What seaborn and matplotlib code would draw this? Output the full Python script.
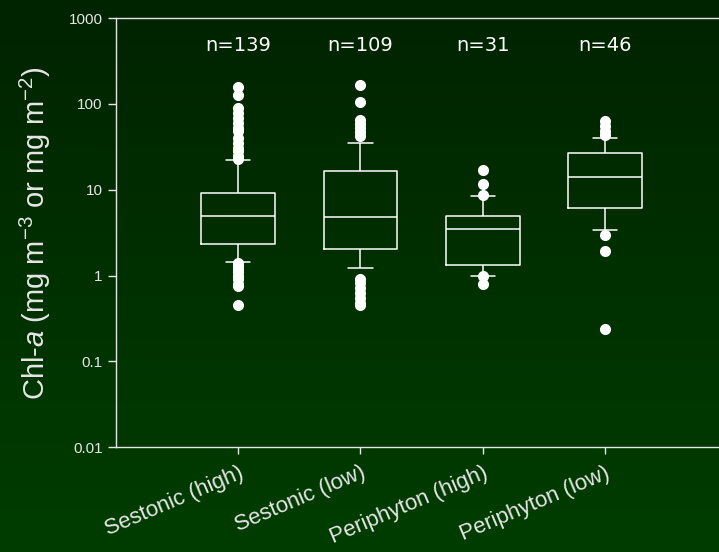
import numpy as np
import pandas as pd
import matplotlib.pyplot as plt
import seaborn as sns
from matplotlib.colors import LinearSegmentedColormap

groups = ["Sestonic (high)", "Sestonic (low)", "Periphyton (high)", "Periphyton (low)"]
n_obs = [139, 109, 31, 46]

# five-number summaries
whisker_low = [1.43, 1.21, 0.99, 3.44]
q1 = [2.34, 2.03, 1.33, 6.06]
median = [4.92, 4.8, 3.5, 14.1]
q3 = [9.06, 16.6, 5.0, 26.5]
whisker_high = [22.1, 35.2, 8.4, 40.6]

# points beyond the whiskers
outliers = [
    [158, 127, 89, 78, 68, 60, 53, 49, 40, 35, 31, 28, 25, 23,
     1.4, 1.3, 1.2, 1.1, 1.0, 0.9, 0.8, 0.75, 0.45],
    [166, 106, 65, 58, 52, 47, 42,
     0.92, 0.82, 0.72, 0.63, 0.55, 0.48, 0.45],
    [17.2, 11.7, 8.6, 0.99, 0.79],
    [64, 56, 49, 43, 3.0, 1.94, 0.24],
]

y_ticks = [0.01, 0.1, 1, 10, 100, 1000]
y_tick_labels = ["0.01", "0.1", "1", "10", "100", "1000"]

sns.set_style("ticks")
plt.rcParams["font.family"] = ["Liberation Sans", "DejaVu Sans"]
plt.rcParams["mathtext.fontset"] = "custom"
plt.rcParams["mathtext.rm"] = "Liberation Sans"
plt.rcParams["mathtext.it"] = "Liberation Sans:italic"
plt.rcParams["axes.unicode_minus"] = False

fg = "#e6e6e6"

box_rows = []
for g, lo, a, m, b, hi in zip(groups, whisker_low, q1, median, q3, whisker_high):
    for v in (lo, a, m, b, hi):
        box_rows.append({"group": g, "value": v})
box_df = pd.DataFrame(box_rows)

out_df = pd.DataFrame(
    [{"group": g, "value": v} for g, vals in zip(groups, outliers) for v in vals]
)

fig = plt.figure(figsize=(7.19, 5.52), dpi=100)

# background gradient
bg = fig.add_axes([0, 0, 1, 1], zorder=-1)
cmap = LinearSegmentedColormap.from_list("bg", ["#002300", "#003d00"])
bg.imshow(np.linspace(0, 1, 256).reshape(-1, 1), aspect="auto", cmap=cmap,
          extent=(0, 1, 0, 1))
bg.set_axis_off()

ax = fig.add_axes([0.161, 0.190, 0.839, 0.777])
ax.patch.set_alpha(0)
ax.set_yscale("log")

box_kws = dict(data=box_df, x="group", y="value", order=groups, whis=(0, 100),
               width=0.6, fill=False, color="white", linewidth=1.1,
               showfliers=False, ax=ax)
try:
    sns.boxplot(capwidths=0.2, **box_kws)
except TypeError:
    sns.boxplot(**box_kws)
sns.stripplot(data=out_df, x="group", y="value", order=groups, jitter=False,
              color="white", size=8, linewidth=0, ax=ax)

for i, n in enumerate(n_obs):
    ax.text(i, 480, f"n={n}", ha="center", va="center", fontsize=14,
            color="white", family="DejaVu Sans")

ax.set_xlim(-1, 3.93)
ax.set_ylim(0.01, 1000)
ax.set_yticks(y_ticks)
ax.set_yticklabels(y_tick_labels)
ax.yaxis.set_minor_locator(plt.NullLocator())
ax.set_xticks(range(len(groups)))
ax.set_xticklabels(groups, rotation=23, ha="right", va="top",
                   rotation_mode="anchor", fontsize=16, color=fg)
ax.tick_params(axis="y", labelsize=11, labelcolor=fg, color=fg, length=6,
               width=1, direction="out")
ax.tick_params(axis="x", color=fg, length=5, width=1, direction="out", pad=6)

ax.set_xlabel("")
ax.set_ylabel(r"Chl-$\mathit{a}$ (mg m$^{-3}$ or mg m$^{-2}$)", fontsize=21,
              color=fg, labelpad=11)

for side in ("left", "bottom", "top"):
    ax.spines[side].set_visible(True)
    ax.spines[side].set_color(fg)
    ax.spines[side].set_linewidth(1)
ax.spines["right"].set_visible(False)

fig.savefig("out.png", dpi=100)
